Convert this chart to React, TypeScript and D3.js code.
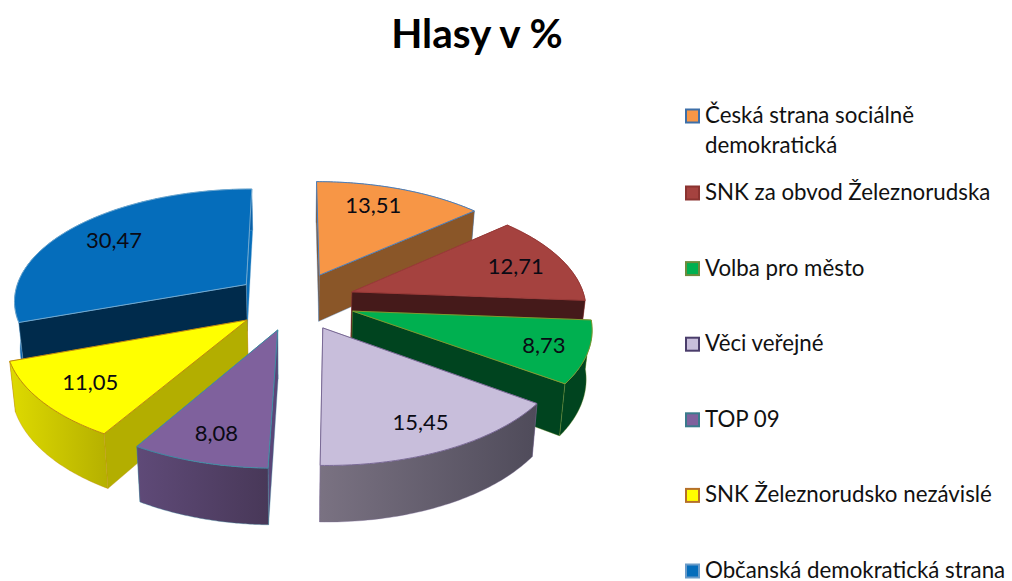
import React from "react";
import * as d3 from "d3";

const title = "Hlasy v %";
const parties = [
  "Česká strana sociálně demokratická",
  "SNK za obvod Železnorudska",
  "Volba pro město",
  "Věci veřejné",
  "TOP 09",
  "SNK Železnorudsko nezávislé",
  "Občanská demokratická strana",
];
const legendLines = [
  ["Česká strana sociálně", "demokratická"],
  ["SNK za obvod Železnorudska"],
  ["Volba pro město"],
  ["Věci veřejné"],
  ["TOP 09"],
  ["SNK Železnorudsko nezávislé"],
  ["Občanská demokratická strana"],
];
const votes = [13.51, 12.71, 8.73, 15.45, 8.08, 11.05, 30.47];
const valueLabels = ["13,51", "12,71", "8,73", "15,45", "8,08", "11,05", "30,47"];

const topColors = ["#F79646", "#A5423F", "#00B050", "#C8BEDB", "#7F619D", "#FFFF00", "#056DBB"];
const edgeColors = ["#4A7EBB", "#9A3B39", "#7E9A30", "#7A6A96", "#3F8CA3", "#C08A10", "#6FA8D0"];
const legendEdges = ["#3D6FA8", "#8B3330", "#6E8B3D", "#4A3D6B", "#3A7A8C", "#B5702A", "#6B9BC8"];
const startWallColors = ["#8A5628", "#451A1A", "#00441F", "#5E5868", "#5A4678", "#B3AE00", "#002B4C"];
const endWallColors = ["#8A5628", "#451A1A", "#00441F", "#5E5868", "#5A4678", "#B3AE00", "#056DBB"];
const outerLeft = ["#8A5628", "#451A1A", "#00441F", "#7A7282", "#5F4A78", "#DEDA00", "#0A60A8"];
const outerRight = ["#8A5628", "#451A1A", "#00441F", "#4F4B5A", "#483858", "#B5B000", "#0A60A8"];
const labelRadius = [0.78, 0.78, 0.82, 0.8, 0.8, 0.78, 0.76];
const labelAngleShift = [-0.07, 0, 0, 0, 0, 0, 0];
const paintOrder = [6, 0, 1, 5, 2, 4, 3];

const cx = 295, cy = 301, rx = 233.5, ry = 112, k = 0.13, depth = 47.5, explode = 0.26, shrink = 0.98;

const project = (x: number, z: number, low = 0): [number, number] => {
  const s = 1 / (1 - k * z);
  const px = x * rx * s * (low ? shrink : 1);
  const py = z * ry * s + low * depth * s;
  return [cx + px, cy + py];
};

const pie = d3.pie<number>().sort(null).startAngle(0).endAngle(2 * Math.PI);
const arcs = pie(votes);
const line = d3.line();

type P = { x: number; z: number };

const buildSlice = (i: number) => {
  const a = arcs[i];
  const mid = (a.startAngle + a.endAngle) / 2;
  const apex: P = { x: explode * Math.sin(mid), z: -explode * Math.cos(mid) };
  const at = (t: number, r = 1): P => ({ x: apex.x + r * Math.sin(t), z: apex.z - r * Math.cos(t) });
  const ts = d3.range(0, 61).map((j) => a.startAngle + ((a.endAngle - a.startAngle) * j) / 60);
  const rim = ts.map((t) => at(t));
  const topPts = [apex, ...rim].map((p) => project(p.x, p.z));
  const wall = (pts: P[]) => [
    ...pts.map((p) => project(p.x, p.z)),
    ...pts.slice().reverse().map((p) => project(p.x, p.z, 1)),
  ] as [number, number][];
  const startQuad = [apex, rim[0]];
  const endQuad = [apex, rim[60]];
  const mean = (pts: P[]) => d3.mean(pts, (p) => p.z) as number;
  const walls = [
    { kind: "start", pts: startQuad, z: mean(startQuad) },
    { kind: "end", pts: endQuad, z: mean(endQuad) },
    { kind: "outer", pts: rim, z: mean(rim) },
  ].sort((p, q) => p.z - q.z);
  const lp = at(mid + labelAngleShift[i], labelRadius[i]);
  const label = project(lp.x, lp.z);
  const xs = wall(rim).map((p) => p[0]);
  return { topPts, walls, wall, label, xMin: d3.min(xs) as number, xMax: d3.max(xs) as number };
};

const font = "Lato, 'Open Sans', sans-serif";
const legendRow = d3.scaleLinear().domain([1, 6]).range([193, 571]);

export default function App() {
  return (
    <svg width={1012} height={581} style={{ position: "absolute", left: 0, top: 0, background: "#fff" }}>
      <defs>
        {votes.map((_, i) => {
          const s = buildSlice(i);
          return (
            <linearGradient key={i} id={`outer${i}`} gradientUnits="userSpaceOnUse" x1={s.xMin} x2={s.xMax} y1={0} y2={0}>
              <stop offset="0" stopColor={outerLeft[i]} />
              <stop offset="1" stopColor={outerRight[i]} />
            </linearGradient>
          );
        })}
      </defs>
      <text x={477} y={48} textAnchor="middle" fontFamily={font} fontWeight={700} fontSize={40.5} fill="#000">{title}</text>
      {paintOrder.map((i) => {
        const s = buildSlice(i);
        const fillOf = (kind: string) =>
          kind === "outer" ? `url(#outer${i})` : kind === "start" ? startWallColors[i] : endWallColors[i];
        return (
          <g key={parties[i]}>
            {s.walls.map((w) => (
              <path
                key={w.kind}
                d={(line(s.wall(w.pts)) as string) + "Z"}
                fill={fillOf(w.kind)}
                stroke={edgeColors[i]}
                strokeWidth={0.6}
                strokeOpacity={0.6}
              />
            ))}
            <path d={(line(s.topPts) as string) + "Z"} fill={topColors[i]} stroke={edgeColors[i]} strokeWidth={1} />
          </g>
        );
      })}
      {votes.map((_, i) => {
        const s = buildSlice(i);
        return (
          <text key={i} x={s.label[0]} y={s.label[1] + 8} textAnchor="middle" fontFamily={font} fontSize={22} fill="#0a0a14">
            {valueLabels[i]}
          </text>
        );
      })}
      {parties.map((p, i) => {
        const y0 = i === 0 ? 116 : legendRow(i);
        return (
          <g key={p}>
            <rect x={686} y={y0 - 6.5} width={13} height={13} fill={topColors[i]} stroke={legendEdges[i]} strokeWidth={2} />
            {legendLines[i].map((t, j) => (
              <text key={t} x={705} y={y0 + 7 + j * 30} fontFamily={font} fontSize={22.3} fill="#111">{t}</text>
            ))}
          </g>
        );
      })}
    </svg>
  );
}
